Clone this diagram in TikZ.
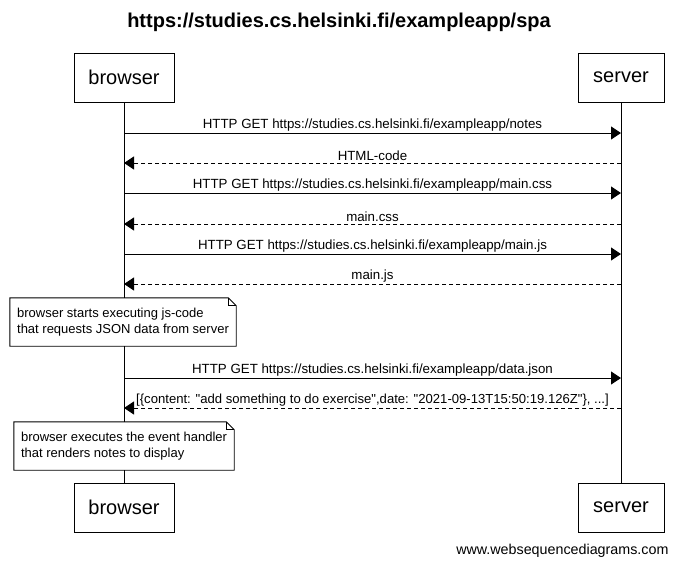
\documentclass[tikz,border=0pt]{standalone}
\usepackage{fontspec}
\setmainfont{Liberation Sans}
\usetikzlibrary{arrows.meta}
\tikzset{
  actor/.style={draw,line width=0.9pt,minimum height=49pt,font=\fontsize{20}{22}\selectfont},
  msg/.style={line width=0.9pt,-{Triangle[length=10pt,width=13pt]}},
  reply/.style={msg,dash pattern=on 4pt off 3pt},
  lbl/.style={above,inner sep=1.5pt,font=\fontsize{13.3}{15}\selectfont},
  note/.style={fill=white,align=left,minimum height=48pt,font=\fontsize{13}{16}\selectfont},
}
\begin{document}
\begin{tikzpicture}[x=1pt,y=-1pt]
	\useasboundingbox (0,0) rectangle (679,566);
	\node[font=\bfseries\fontsize{20}{22}\selectfont] (title) at (339,22) {https://studies.cs.helsinki.fi/exampleapp/spa};
	% actors, top and bottom
	\node[actor,minimum width=100pt] (bTop) at (124,77.5) {browser};
	\node[actor,minimum width=86pt] (sTop) at (621,77.5) {server};
	\node[actor,minimum width=100pt] (bBot) at (124,507.5) {browser};
	\node[actor,minimum width=86pt] (sBot) at (621,507.5) {server};
	\draw[line width=0.9pt] (bTop) -- (bBot);
	\draw[line width=0.9pt] (sTop) -- (sBot);
	\foreach \y [count=\i] in {133,163,193,224,254,284,378,408}{
		\coordinate (b\i) at (124,\y);
		\coordinate (s\i) at (621,\y);
	}
	% messages
	\draw[msg] (b1) -- (s1) node[lbl,midway]{HTTP GET https://studies.cs.helsinki.fi/exampleapp/notes};
	\draw[reply] (s2) -- (b2) node[lbl,midway]{HTML-code};
	\draw[msg] (b3) -- (s3) node[lbl,midway]{HTTP GET https://studies.cs.helsinki.fi/exampleapp/main.css};
	\draw[reply] (s4) -- (b4) node[lbl,midway]{main.css};
	\draw[msg] (b5) -- (s5) node[lbl,midway]{HTTP GET https://studies.cs.helsinki.fi/exampleapp/main.js};
	\draw[reply] (s6) -- (b6) node[lbl,midway]{main.js};
	\node[note,minimum width=226pt] (n1) at (123,322) {browser starts executing js-code\\that requests JSON data from server};
	\draw[line width=0.9pt] (n1.north west) -- ([xshift=-8pt]n1.north east) -- ([yshift=-8pt]n1.north east) -- (n1.south east) -- (n1.south west) -- cycle;
	\draw[line width=0.9pt] ([xshift=-8pt]n1.north east) |- ([yshift=-8pt]n1.north east);
	\draw[msg] (b7) -- (s7) node[lbl,midway]{HTTP GET https://studies.cs.helsinki.fi/exampleapp/data.json};
	\draw[reply] (s8) -- (b8) node[lbl,midway,font=\fontsize{13.1}{15}\selectfont]{[\{content: \textquotedbl add something to do exercise\textquotedbl,date: \textquotedbl 2021-09-13T15:50:19.126Z\textquotedbl\}, ...]};
	\node[note,minimum width=220pt] (n2) at (124,446) {browser executes the event handler\\that renders notes to display};
	\draw[line width=0.9pt] (n2.north west) -- ([xshift=-8pt]n2.north east) -- ([yshift=-8pt]n2.north east) -- (n2.south east) -- (n2.south west) -- cycle;
	\draw[line width=0.9pt] ([xshift=-8pt]n2.north east) |- ([yshift=-8pt]n2.north east);
	\node[anchor=east,font=\fontsize{14.3}{16}\selectfont] (wsd) at (672,551) {www.websequencediagrams.com};
\end{tikzpicture}
\end{document}
